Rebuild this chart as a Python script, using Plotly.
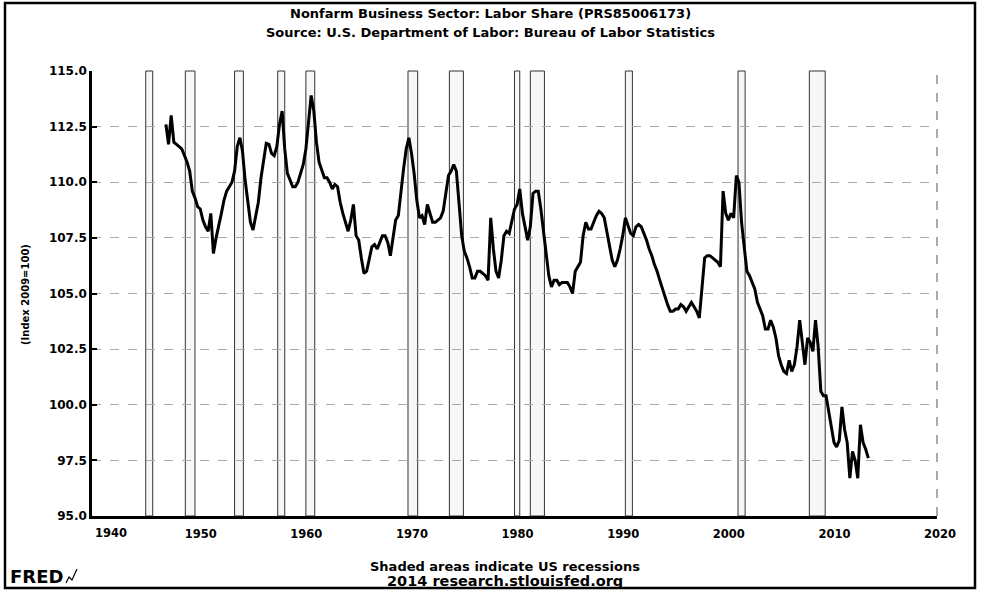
import pandas as pd
import plotly.graph_objects as go

# Quarterly labor share index (2009=100), 1947Q1 .. 2013Q3
v1947_1956 = [
    112.6, 111.7, 113.0, 111.8,
    111.7, 111.6, 111.5, 111.2,
    110.9, 110.5, 109.6, 109.3,
    108.9, 108.8, 108.3, 108.0,
    107.8, 108.6, 106.8, 107.5,
    108.0, 108.6, 109.2, 109.6,
    109.8, 110.0, 110.5, 111.6,
    112.0, 111.4, 110.1, 109.1,
    108.2, 107.85, 108.4, 109.1,
    110.2, 111.1, 111.75, 111.7,
]
v1957_1966 = [
    111.3, 111.2, 111.6, 112.6,
    113.2, 111.5, 110.4, 110.1,
    109.8, 109.8, 110.0, 110.4,
    110.8, 111.5, 112.8, 113.9,
    113.2, 111.8, 110.9, 110.5,
    110.2, 110.2, 110.0, 109.7,
    109.9, 109.8, 109.1, 108.6,
    108.2, 107.8, 108.3, 109.0,
    107.6, 107.4, 106.6, 105.9,
    106.0, 106.6, 107.1, 107.2,
]
v1967_1976 = [
    107.0, 107.3, 107.6, 107.6,
    107.3, 106.7, 107.5, 108.3,
    108.5, 109.6, 110.6, 111.5,
    112.0, 111.3, 110.4, 109.2,
    108.4, 108.5, 108.1, 109.0,
    108.6, 108.2, 108.2, 108.3,
    108.4, 108.7, 109.6, 110.3,
    110.5, 110.8, 110.5, 109.2,
    107.6, 106.9, 106.6, 106.2,
    105.7, 105.7, 106.0, 106.0,
]
v1977_1986 = [
    105.9, 105.8, 105.6, 108.4,
    107.0, 106.0, 105.7, 106.5,
    107.6, 107.8, 107.7, 108.3,
    108.8, 109.0, 109.7, 108.6,
    108.0, 107.4, 108.0, 109.5,
    109.6, 109.6, 108.8, 107.7,
    106.7, 105.8, 105.3, 105.6,
    105.6, 105.4, 105.5, 105.5,
    105.5, 105.3, 105.0, 106.0,
    106.2, 106.4, 107.6, 108.2,
]
v1987_1996 = [
    107.9, 107.9, 108.2, 108.5,
    108.7, 108.6, 108.4, 107.7,
    107.1, 106.5, 106.2, 106.5,
    107.0, 107.6, 108.4, 108.0,
    107.7, 107.6, 108.0, 108.1,
    108.0, 107.7, 107.4, 107.0,
    106.7, 106.3, 106.0, 105.6,
    105.2, 104.8, 104.5, 104.2,
    104.2, 104.3, 104.3, 104.5,
    104.4, 104.2, 104.4, 104.6,
]
v1997_2006 = [
    104.4, 104.2, 103.9, 105.3,
    106.6, 106.7, 106.7, 106.6,
    106.5, 106.4, 106.2, 109.6,
    108.6, 108.3, 108.6, 108.4,
    110.3, 110.0, 108.2, 107.0,
    106.0, 105.8, 105.5, 105.2,
    104.6, 104.3, 104.0, 103.4,
    103.4, 103.8, 103.5, 103.0,
    102.2, 101.8, 101.5, 101.4,
    102.0, 101.5, 101.8, 102.6,
]
v2007_2013 = [
    103.8, 102.8, 101.8, 103.0,
    102.8, 102.4, 103.8, 102.6,
    100.6, 100.4, 100.4, 99.7,
    99.0, 98.3, 98.1, 98.4,
    99.9, 98.9, 98.3, 96.7,
    97.9, 97.5, 96.7, 99.1,
    98.3, 98.0, 97.6,
]
values = v1947_1956 + v1957_1966 + v1967_1976 + v1977_1986 + v1987_1996 + v1997_2006 + v2007_2013
dates = pd.date_range("1947-01-01", periods=len(values), freq="QS")

recession_starts = ["1945-02-01", "1948-11-01", "1953-07-01", "1957-08-01", "1960-04-01",
                    "1969-12-01", "1973-11-01", "1980-01-01", "1981-07-01", "1990-07-01",
                    "2001-03-01", "2007-12-01"]
recession_ends = ["1945-10-01", "1949-10-01", "1954-05-01", "1958-04-01", "1961-02-01",
                  "1970-11-01", "1975-03-01", "1980-07-01", "1982-11-01", "1991-03-01",
                  "2001-11-01", "2009-06-01"]

y_ticks = [95.0, 97.5, 100.0, 102.5, 105.0, 107.5, 110.0, 112.5, 115.0]
x_tick_years = [1940, 1950, 1960, 1970, 1980, 1990, 2000, 2010, 2020]

FONT = "DejaVu Sans"
W, H = 981, 594
L, R, T, B = 92, 937, 71, 516


def px(x):
    return (x - L) / (R - L)


def py(y):
    return (B - y) / (B - T)


def label(text, x, y, size, angle=0):
    return dict(text=f"<b>{text}</b>", x=px(x), y=py(y), xref="paper", yref="paper",
                xanchor="center", yanchor="middle", showarrow=False, textangle=angle,
                font=dict(family=FONT, size=size, color="black"))


fig = go.Figure()
fig.add_trace(go.Scatter(x=dates, y=values, mode="lines",
                         line=dict(color="black", width=3), showlegend=False))

shapes = []
for s, e in zip(recession_starts, recession_ends):
    shapes.append(dict(type="rect", xref="x", yref="paper", x0=s, x1=e, y0=0, y1=1,
                       fillcolor="rgba(0,0,0,0.03)", line=dict(color="#333", width=1),
                       layer="below"))
# dashed right edge
shapes.append(dict(type="line", xref="paper", yref="paper", x0=1, x1=1, y0=0, y1=1,
                   line=dict(color="#555", width=1, dash="dash")))
# outer frame
shapes.append(dict(type="rect", xref="paper", yref="paper", x0=px(5), x1=px(975),
                   y0=py(588), y1=py(3), line=dict(color="black", width=2.5)))
# small logo glyph
shapes.append(dict(type="path", xref="paper", yref="paper",
                   path=f"M {px(66)} {py(583)} L {px(69)} {py(577)} L {px(72)} {py(580)} L {px(77)} {py(569)}",
                   line=dict(color="black", width=1.2)))

annotations = [
    label("Nonfarm Business Sector: Labor Share (PRS85006173)", 490, 14, 13),
    label("Source: U.S. Department of Labor: Bureau of Labor Statistics", 490, 32, 13),
    label("(Index 2009=100)", 25, 295, 10, -90),
    label("Shaded areas indicate US recessions", 505, 566, 13),
    label("2014 research.stlouisfed.org", 505, 581, 14.5),
    label("FRED", 36, 576, 18),
    label("1940", 111, 533, 11.5),
]

fig.update_layout(
    width=W, height=H,
    margin=dict(l=L, r=W - R, t=T, b=H - B, autoexpand=False),
    paper_bgcolor="white", plot_bgcolor="white",
    shapes=shapes, annotations=annotations,
    font=dict(family=FONT, color="black"),
    xaxis=dict(type="date", range=["1940-01-01", "2020-01-01"],
               tickvals=[f"{y}-01-01" for y in x_tick_years],
               ticktext=["" if y == 1940 else str(y) for y in x_tick_years],
               tickfont=dict(family=FONT, size=11.5, weight="bold", color="black"),
               ticklabelstandoff=5, ticklabelshift=3,
               showgrid=False, zeroline=False, showline=True, linecolor="black", linewidth=2.5,
               ticks=""),
    yaxis=dict(range=[95, 115], tickvals=y_ticks, ticktext=[f"{t:.1f}" for t in y_ticks],
               tickfont=dict(family=FONT, size=12, weight="bold", color="black"),
               showgrid=True, gridcolor="#aaa", griddash="dash", gridwidth=1,
               zeroline=False, showline=True, linecolor="black", linewidth=2.5,
               ticks="inside", ticklen=5, tickwidth=2, tickcolor="black"),
)

fig.write_html("out.html", config={"displayModeBar": False},
               post_script="document.body.style.margin='0';")
